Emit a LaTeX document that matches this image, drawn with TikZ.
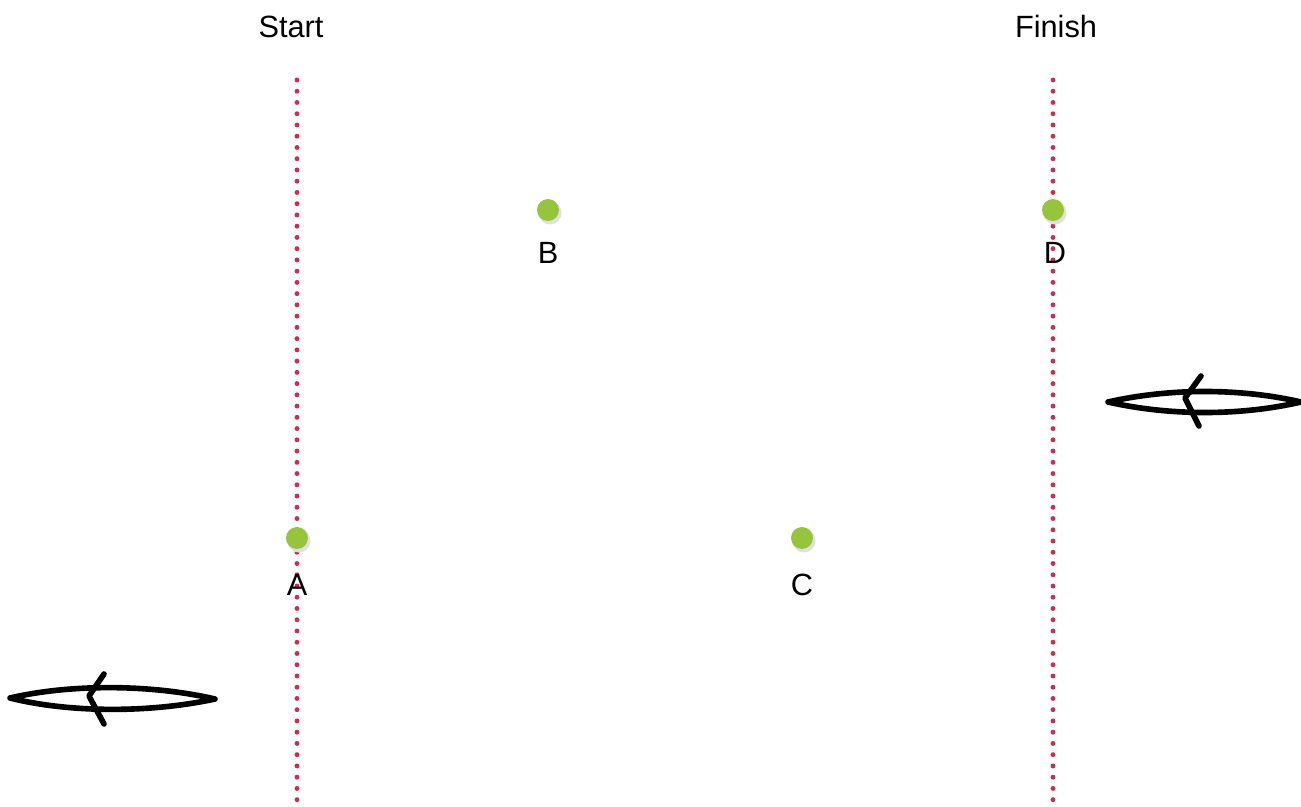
\documentclass[tikz,border=0pt]{standalone}
\usepackage{fontspec}
\setmainfont{Liberation Sans}
\definecolor{markgreen}{RGB}{150,196,58}
\definecolor{lanered}{RGB}{205,45,85}
\tikzset{
  lane/.style={lanered, line width=2.8pt, line cap=round, dash pattern=on 0pt off 6.4pt},
  buoy/.style={circle, fill=markgreen, inner sep=0pt, minimum size=12.5pt},
  lbl/.style={font=\fontsize{17.5}{19}\selectfont},
  boat/.style={line width=3.2pt, line cap=round, line join=round}
}
\begin{document}
\begin{tikzpicture}[x=0.02cm, y=-0.02cm]
  \useasboundingbox (0,0) rectangle (1301,807);
  % lanes
  \coordinate (s1) at (297,80);  \coordinate (s2) at (297,807);
  \coordinate (f1) at (1053,80); \coordinate (f2) at (1053,807);
  \draw[lane] (s1)--(s2);
  \draw[lane] (f1)--(f2);
  \node[lbl] (start) at (291,27) {Start};
  \node[lbl] (finish) at (1056,27) {Finish};
  % buoys
  \fill[black!12] (299,541) circle (11.5);
  \fill[black!12] (550,213) circle (11.5);
  \fill[black!12] (804,541) circle (11.5);
  \fill[black!12] (1055,213) circle (11.5);
  \node[buoy] (A) at (297,538) {};
  \node[buoy] (B) at (548,210) {};
  \node[buoy] (C) at (802,538) {};
  \node[buoy] (D) at (1053,210) {};
  \node[lbl] at (297,585) {A};
  \node[lbl] at (548,253) {B};
  \node[lbl] at (802,585) {C};
  \node[lbl] at (1055,253) {D};
  % boats
  \draw[boat] (10,698) .. controls (70,684) and (150,684) .. (215,699)
              .. controls (150,713) and (70,713) .. (10,698);
  \draw[boat] (104,674) -- (89,696) -- (104,724);
  \draw[boat] (1108,402) .. controls (1170,388) and (1240,388) .. (1301,402)
              .. controls (1240,416) and (1170,416) .. (1108,402);
  \draw[boat] (1201,376) -- (1185,398) -- (1199,426);
\end{tikzpicture}
\end{document}
